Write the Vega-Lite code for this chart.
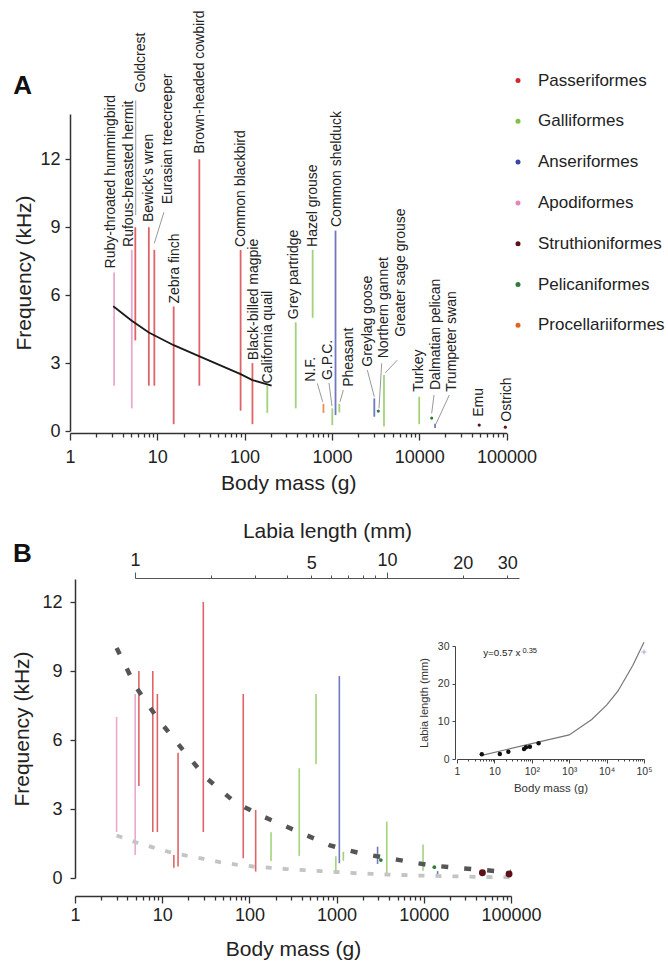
{
  "$schema": "https://vega.github.io/schema/vega-lite/v6.json",
  "width": 668,
  "height": 963,
  "autosize": {"type": "none"},
  "padding": 0,
  "background": "white",
  "config": {
    "view": {"stroke": null},
    "font": "Liberation Sans",
    "axis": {"grid": false, "domainColor": "#333", "tickColor": "#333", "labelColor": "#222", "titleColor": "#222", "titleFontWeight": "normal", "labelFont": "Liberation Sans", "titleFont": "Liberation Sans", "domainWidth": 1.5, "tickWidth": 1.3, "labelFlush": false, "labelOverlap": false},
    "text": {"font": "Liberation Sans"}
  },
  "datasets": {
    "birdsA": [
      {"species": "Ruby-throated hummingbird", "order": "Apodiformes", "kind": "bar", "mass": 3.2, "fmin": 2, "fmax": 7},
      {"species": "Rufous-breasted hermit", "order": "Apodiformes", "kind": "bar", "mass": 5.1, "fmin": 1, "fmax": 8},
      {"species": "Goldcrest", "order": "Passeriformes", "kind": "bar", "mass": 5.6, "fmin": 4, "fmax": 9},
      {"species": "Bewick's wren", "order": "Passeriformes", "kind": "bar", "mass": 8.0, "fmin": 2, "fmax": 9},
      {"species": "Eurasian treecreeper", "order": "Passeriformes", "kind": "bar", "mass": 9.25, "fmin": 2, "fmax": 8},
      {"species": "Zebra finch", "order": "Passeriformes", "kind": "bar", "mass": 15.4, "fmin": 0.3, "fmax": 5.5},
      {"species": "Brown-headed cowbird", "order": "Passeriformes", "kind": "bar", "mass": 30.3, "fmin": 2, "fmax": 12},
      {"species": "Common blackbird", "order": "Passeriformes", "kind": "bar", "mass": 90, "fmin": 0.9, "fmax": 8},
      {"species": "Black-billed magpie", "order": "Passeriformes", "kind": "bar", "mass": 123, "fmin": 0.3, "fmax": 3},
      {"species": "California quail", "order": "Galliformes", "kind": "bar", "mass": 182, "fmin": 0.8, "fmax": 2},
      {"species": "Grey partridge", "order": "Galliformes", "kind": "bar", "mass": 385, "fmin": 1, "fmax": 4.8},
      {"species": "Hazel grouse", "order": "Galliformes", "kind": "bar", "mass": 602, "fmin": 5, "fmax": 8},
      {"species": "Northern fulmar", "order": "Procellariiformes", "kind": "bar", "mass": 800, "fmin": 0.8, "fmax": 1.2},
      {"species": "Greater prairie chicken", "order": "Galliformes", "kind": "bar", "mass": 1010, "fmin": 0.26, "fmax": 1.0},
      {"species": "Common shelduck", "order": "Anseriformes", "kind": "bar", "mass": 1100, "fmin": 0.7, "fmax": 8.85},
      {"species": "Pheasant", "order": "Galliformes", "kind": "bar", "mass": 1217, "fmin": 0.82, "fmax": 1.2},
      {"species": "Greylag goose", "order": "Anseriformes", "kind": "bar", "mass": 3060, "fmin": 0.63, "fmax": 1.44},
      {"species": "Northern gannet", "order": "Pelicaniformes", "kind": "dot", "mass": 3400, "fmin": 0.88, "fmax": 0.88},
      {"species": "Greater sage grouse", "order": "Galliformes", "kind": "bar", "mass": 3950, "fmin": 0.2, "fmax": 2.47},
      {"species": "Turkey", "order": "Galliformes", "kind": "bar", "mass": 10000, "fmin": 0.3, "fmax": 1.51},
      {"species": "Dalmatian pelican", "order": "Pelicaniformes", "kind": "dot", "mass": 13900, "fmin": 0.57, "fmax": 0.57},
      {"species": "Trumpeter swan", "order": "Anseriformes", "kind": "bar", "mass": 15200, "fmin": 0.13, "fmax": 0.32},
      {"species": "Emu", "order": "Struthioniformes", "kind": "dot", "mass": 48700, "fmin": 0.26, "fmax": 0.26},
      {"species": "Ostrich", "order": "Struthioniformes", "kind": "dot", "mass": 97000, "fmin": 0.17, "fmax": 0.17}
    ],
    "labelsA": [
      {"label": "Ruby-throated hummingbird", "labelMass": 2.95, "labelFreq": 7.18},
      {"label": "Rufous-breasted hermit", "labelMass": 4.72, "labelFreq": 8.13},
      {"label": "Goldcrest", "labelMass": 6.59, "labelFreq": 14.95},
      {"label": "Bewick's wren", "labelMass": 8.04, "labelFreq": 9.23},
      {"label": "Eurasian treecreeper", "labelMass": 13.4, "labelFreq": 10.01},
      {"label": "Zebra finch", "labelMass": 15.9, "labelFreq": 5.63},
      {"label": "Brown-headed cowbird", "labelMass": 30.8, "labelFreq": 12.25},
      {"label": "Common blackbird", "labelMass": 89.8, "labelFreq": 8.13},
      {"label": "Black-billed magpie", "labelMass": 128, "labelFreq": 3.13},
      {"label": "California quail", "labelMass": 185, "labelFreq": 2.1},
      {"label": "Grey partridge", "labelMass": 368, "labelFreq": 4.94},
      {"label": "Hazel grouse", "labelMass": 607, "labelFreq": 8.13},
      {"label": "Common shelduck", "labelMass": 1159, "labelFreq": 9.01},
      {"label": "N.F.", "labelMass": 573, "labelFreq": 2.17},
      {"label": "G.P.C.", "labelMass": 891, "labelFreq": 2.25},
      {"label": "Pheasant", "labelMass": 1578, "labelFreq": 1.95},
      {"label": "Greylag goose", "labelMass": 2558, "labelFreq": 2.84},
      {"label": "Northern gannet", "labelMass": 3953, "labelFreq": 3.21},
      {"label": "Greater sage grouse", "labelMass": 6190, "labelFreq": 4.16},
      {"label": "Turkey", "labelMass": 9950, "labelFreq": 1.73},
      {"label": "Dalmatian pelican", "labelMass": 15380, "labelFreq": 1.81},
      {"label": "Trumpeter swan", "labelMass": 24050, "labelFreq": 1.73},
      {"label": "Emu", "labelMass": 48080, "labelFreq": 0.63},
      {"label": "Ostrich", "labelMass": 102600, "labelFreq": 0.41}
    ],
    "leadersA": [
      {"label": "Goldcrest", "mass1": 5.66, "freq1": 9.53, "mass2": 5.66, "freq2": 14.6},
      {"label": "Eurasian treecreeper", "mass1": 9.24, "freq1": 8.29, "mass2": 11.9, "freq2": 9.66},
      {"label": "N.F.", "mass1": 681, "freq1": 2.1, "mass2": 784, "freq2": 1.29},
      {"label": "G.P.C.", "mass1": 926, "freq1": 2.12, "mass2": 1003, "freq2": 1.1},
      {"label": "Pheasant", "mass1": 1352, "freq1": 1.81, "mass2": 1238, "freq2": 1.29},
      {"label": "Greylag goose", "mass1": 2545, "freq1": 2.69, "mass2": 3060, "freq2": 1.51},
      {"label": "Northern gannet", "mass1": 3718, "freq1": 2.99, "mass2": 3463, "freq2": 1.0},
      {"label": "Greater sage grouse", "mass1": 5613, "freq1": 3.13, "mass2": 4090, "freq2": 2.57},
      {"label": "Dalmatian pelican", "mass1": 14780, "freq1": 1.59, "mass2": 13900, "freq2": 0.78},
      {"label": "Trumpeter swan", "mass1": 22130, "freq1": 1.59, "mass2": 15560, "freq2": 0.31}
    ],
    "fitA": [
      {"mass": 3.13, "freq": 5.51},
      {"mass": 5.1, "freq": 4.87},
      {"mass": 8, "freq": 4.35},
      {"mass": 15.4, "freq": 3.79},
      {"mass": 30, "freq": 3.31},
      {"mass": 90, "freq": 2.51},
      {"mass": 123, "freq": 2.25},
      {"mass": 204, "freq": 2.0}
    ],
    "lettersA": [{"letter": "A", "mass": 0.286, "freq": 15.24}],
    "lettersB": [{"letter": "B", "mass": 0.25, "freq": 14.09}],
    "birdsB": [
      {"species": "Ruby-throated hummingbird", "order": "Apodiformes", "kind": "bar", "mass": 3.0, "fmin": 2, "fmax": 7},
      {"species": "Rufous-breasted hermit", "order": "Apodiformes", "kind": "bar", "mass": 4.9, "fmin": 1, "fmax": 8},
      {"species": "Goldcrest", "order": "Passeriformes", "kind": "bar", "mass": 5.4, "fmin": 4, "fmax": 9},
      {"species": "Bewick's wren", "order": "Passeriformes", "kind": "bar", "mass": 7.8, "fmin": 2, "fmax": 9},
      {"species": "Eurasian treecreeper", "order": "Passeriformes", "kind": "bar", "mass": 8.8, "fmin": 2, "fmax": 8},
      {"species": "Zebra finch (low)", "order": "Passeriformes", "kind": "bar", "mass": 13.6, "fmin": 0.45, "fmax": 1.0},
      {"species": "Zebra finch", "order": "Passeriformes", "kind": "bar", "mass": 15.2, "fmin": 0.5, "fmax": 5.45},
      {"species": "Brown-headed cowbird", "order": "Passeriformes", "kind": "bar", "mass": 29.6, "fmin": 2, "fmax": 12},
      {"species": "Common blackbird", "order": "Passeriformes", "kind": "bar", "mass": 85, "fmin": 0.86, "fmax": 8},
      {"species": "Black-billed magpie", "order": "Passeriformes", "kind": "bar", "mass": 118, "fmin": 0.28, "fmax": 2.96},
      {"species": "California quail", "order": "Galliformes", "kind": "bar", "mass": 177, "fmin": 0.74, "fmax": 1.99},
      {"species": "Grey partridge", "order": "Galliformes", "kind": "bar", "mass": 373, "fmin": 0.96, "fmax": 4.77},
      {"species": "Hazel grouse", "order": "Galliformes", "kind": "bar", "mass": 581, "fmin": 4.96, "fmax": 8},
      {"species": "Greater prairie chicken", "order": "Galliformes", "kind": "bar", "mass": 980, "fmin": 0.3, "fmax": 0.95},
      {"species": "Common shelduck", "order": "Anseriformes", "kind": "bar", "mass": 1075, "fmin": 0.64, "fmax": 8.78},
      {"species": "Pheasant", "order": "Galliformes", "kind": "bar", "mass": 1195, "fmin": 0.75, "fmax": 1.14},
      {"species": "Greylag goose", "order": "Anseriformes", "kind": "bar", "mass": 2950, "fmin": 0.61, "fmax": 1.36},
      {"species": "Northern gannet", "order": "Pelicaniformes", "kind": "dot", "mass": 3220, "fmin": 0.78, "fmax": 0.78},
      {"species": "Greater sage grouse", "order": "Galliformes", "kind": "bar", "mass": 3760, "fmin": 0.2, "fmax": 2.45},
      {"species": "Turkey", "order": "Galliformes", "kind": "bar", "mass": 9800, "fmin": 0.32, "fmax": 1.46},
      {"species": "Dalmatian pelican", "order": "Pelicaniformes", "kind": "dot", "mass": 13200, "fmin": 0.47, "fmax": 0.47},
      {"species": "Trumpeter swan", "order": "Anseriformes", "kind": "bar", "mass": 14400, "fmin": 0.15, "fmax": 0.3},
      {"species": "Emu", "order": "Struthioniformes", "kind": "dot", "mass": 47000, "fmin": 0.23, "fmax": 0.23},
      {"species": "Ostrich", "order": "Struthioniformes", "kind": "dot", "mass": 95000, "fmin": 0.17, "fmax": 0.17}
    ],
    "curvesB": [
      {"curve": "upper", "mass": 3, "freq": 10.0},
      {"curve": "upper", "mass": 5, "freq": 8.3},
      {"curve": "upper", "mass": 9, "freq": 6.9},
      {"curve": "upper", "mass": 17, "freq": 5.6},
      {"curve": "upper", "mass": 32, "freq": 4.35},
      {"curve": "upper", "mass": 68, "freq": 3.3},
      {"curve": "upper", "mass": 138, "freq": 2.7},
      {"curve": "upper", "mass": 370, "freq": 2.0},
      {"curve": "upper", "mass": 840, "freq": 1.42},
      {"curve": "upper", "mass": 1300, "freq": 1.22},
      {"curve": "upper", "mass": 2000, "freq": 1.05},
      {"curve": "upper", "mass": 4900, "freq": 0.8},
      {"curve": "upper", "mass": 11800, "freq": 0.55},
      {"curve": "upper", "mass": 28000, "freq": 0.42},
      {"curve": "upper", "mass": 68000, "freq": 0.3},
      {"curve": "upper", "mass": 100000, "freq": 0.27},
      {"curve": "lower", "mass": 3, "freq": 1.85},
      {"curve": "lower", "mass": 5, "freq": 1.55},
      {"curve": "lower", "mass": 8, "freq": 1.32},
      {"curve": "lower", "mass": 12, "freq": 1.13},
      {"curve": "lower", "mass": 19, "freq": 0.97},
      {"curve": "lower", "mass": 30, "freq": 0.83},
      {"curve": "lower", "mass": 46, "freq": 0.69},
      {"curve": "lower", "mass": 71, "freq": 0.58},
      {"curve": "lower", "mass": 111, "freq": 0.5},
      {"curve": "lower", "mass": 177, "freq": 0.44},
      {"curve": "lower", "mass": 267, "freq": 0.39},
      {"curve": "lower", "mass": 430, "freq": 0.34},
      {"curve": "lower", "mass": 660, "freq": 0.3},
      {"curve": "lower", "mass": 1000, "freq": 0.26},
      {"curve": "lower", "mass": 1600, "freq": 0.21},
      {"curve": "lower", "mass": 2500, "freq": 0.18},
      {"curve": "lower", "mass": 3800, "freq": 0.15},
      {"curve": "lower", "mass": 10000, "freq": 0.1},
      {"curve": "lower", "mass": 40000, "freq": 0.05},
      {"curve": "lower", "mass": 100000, "freq": 0.03}
    ],
    "labia": [{"labia": 1}, {"labia": 33.4}],
    "insetPoints": [
      {"mass": 4.6, "labia": 1.25},
      {"mass": 14, "labia": 1.33},
      {"mass": 23.6, "labia": 1.94},
      {"mass": 62, "labia": 2.65},
      {"mass": 70, "labia": 3.1},
      {"mass": 89, "labia": 3.27},
      {"mass": 152, "labia": 4.16}
    ],
    "insetFit": [
      {"mass": 4.6, "labia": 0.97},
      {"mass": 1000, "labia": 6.4},
      {"mass": 4000, "labia": 10.5},
      {"mass": 10000, "labia": 14.3},
      {"mass": 20000, "labia": 18.0},
      {"mass": 50000, "labia": 24.8},
      {"mass": 100000, "labia": 31.0}
    ],
    "insetPlus": [{"mass": 100000, "labia": 28.4}],
    "equation": [{"t": "y=0.57 x", "mass": 5.0, "labia": 28.1}],
    "equationSup": [{"t": "0.35", "mass": 56, "labia": 28.8}]
  },
  "resolve": {"scale": {"x": "independent", "y": "independent"}},
  "layer": [
    {
      "layer": [
        {
          "data": {"name": "birdsA"},
          "transform": [{"filter": "datum.kind == 'dot'"}],
          "mark": {"type": "point", "filled": true, "size": 10, "opacity": 1},
          "encoding": {
            "x": {"field": "mass", "type": "quantitative", "scale": {"type": "log", "domain": [1, 100000], "range": [70, 506.5], "nice": false},
              "axis": {"orient": "bottom", "offset": -530, "title": "Body mass (g)", "values": [1,2,3,4,5,6,7,8,9,10,20,30,40,50,60,70,80,90,100,200,300,400,500,600,700,800,900,1000,2000,3000,4000,5000,6000,7000,8000,9000,10000,20000,30000,40000,50000,60000,70000,80000,90000,100000], "labelExpr": "indexof([1,10,100,1000,10000,100000], datum.value) >= 0 ? format(datum.value, 'd') : ''", "tickSize": {"condition": {"test": "indexof([1,10,100,1000,10000,100000], datum.value) >= 0", "value": 7}, "value": 4}, "labelPadding": 8, "labelFontSize": 18, "titleFontSize": 21, "titlePadding": 6}},
            "y": {"field": "fmin", "type": "quantitative", "scale": {"domain": [0, 14], "range": [431, 114], "nice": false, "zero": false},
              "axis": {"orient": "left", "offset": -70, "title": "Frequency (kHz)", "values": [0, 3, 6, 9, 12], "tickSize": 5, "labelPadding": 5, "labelFontSize": 18, "titleFontSize": 21, "titlePadding": 5}},
            "color": {"field": "order", "type": "nominal",
              "scale": {"domain": ["Passeriformes", "Galliformes", "Anseriformes", "Apodiformes", "Struthioniformes", "Pelicaniformes", "Procellariiformes"],
                "range": ["#d2282d", "#7fc045", "#3c44a6", "#e386bb", "#5e1016", "#2e7d36", "#df6420"]},
              "legend": {"orient": "none", "legendX": 509.5, "legendY": 72, "title": null, "symbolType": "circle", "symbolSize": 25, "symbolStrokeWidth": 0, "labelFontSize": 17, "labelOffset": 11.5, "rowPadding": 22.8, "labelColor": "#222", "padding": 0, "labelFont": "Liberation Sans", "labelLimit": 200}}
          }
        },
        {
          "data": {"name": "birdsA"},
          "transform": [{"filter": "datum.kind == 'bar'"}],
          "mark": {"type": "rule", "strokeWidth": 1.8, "opacity": 0.72},
          "encoding": {
            "x": {"field": "mass", "type": "quantitative", "scale": {"type": "log", "domain": [1, 100000], "range": [70, 506.5], "nice": false},
              "axis": {"orient": "bottom", "offset": -530, "title": "Body mass (g)", "values": [1,2,3,4,5,6,7,8,9,10,20,30,40,50,60,70,80,90,100,200,300,400,500,600,700,800,900,1000,2000,3000,4000,5000,6000,7000,8000,9000,10000,20000,30000,40000,50000,60000,70000,80000,90000,100000], "labelExpr": "indexof([1,10,100,1000,10000,100000], datum.value) >= 0 ? format(datum.value, 'd') : ''", "tickSize": {"condition": {"test": "indexof([1,10,100,1000,10000,100000], datum.value) >= 0", "value": 7}, "value": 4}, "labelPadding": 8, "labelFontSize": 18, "titleFontSize": 21, "titlePadding": 6}},
            "y": {"field": "fmin", "type": "quantitative", "scale": {"domain": [0, 14], "range": [431, 114], "nice": false, "zero": false},
              "axis": {"orient": "left", "offset": -70, "title": "Frequency (kHz)", "values": [0, 3, 6, 9, 12], "tickSize": 5, "labelPadding": 5, "labelFontSize": 18, "titleFontSize": 21, "titlePadding": 5}},
            "y2": {"field": "fmax"},
            "color": {"field": "order", "type": "nominal", "legend": null}
          }
        },
        {
          "data": {"name": "fitA"},
          "mark": {"type": "line", "color": "#1a1a1a", "strokeWidth": 1.8},
          "encoding": {
            "x": {"field": "mass", "type": "quantitative", "scale": {"type": "log", "domain": [1, 100000], "range": [70, 506.5], "nice": false},
              "axis": {"orient": "bottom", "offset": -530, "title": "Body mass (g)", "values": [1,2,3,4,5,6,7,8,9,10,20,30,40,50,60,70,80,90,100,200,300,400,500,600,700,800,900,1000,2000,3000,4000,5000,6000,7000,8000,9000,10000,20000,30000,40000,50000,60000,70000,80000,90000,100000], "labelExpr": "indexof([1,10,100,1000,10000,100000], datum.value) >= 0 ? format(datum.value, 'd') : ''", "tickSize": {"condition": {"test": "indexof([1,10,100,1000,10000,100000], datum.value) >= 0", "value": 7}, "value": 4}, "labelPadding": 8, "labelFontSize": 18, "titleFontSize": 21, "titlePadding": 6}},
            "y": {"field": "freq", "type": "quantitative", "scale": {"domain": [0, 14], "range": [431, 114], "nice": false, "zero": false},
              "axis": {"orient": "left", "offset": -70, "title": "Frequency (kHz)", "values": [0, 3, 6, 9, 12], "tickSize": 5, "labelPadding": 5, "labelFontSize": 18, "titleFontSize": 21, "titlePadding": 5}}
          }
        },
        {
          "data": {"name": "leadersA"},
          "mark": {"type": "rule", "color": "#999", "strokeWidth": 1},
          "encoding": {
            "x": {"field": "mass1", "type": "quantitative", "scale": {"type": "log", "domain": [1, 100000], "range": [70, 506.5], "nice": false},
              "axis": {"orient": "bottom", "offset": -530, "title": "Body mass (g)", "values": [1,2,3,4,5,6,7,8,9,10,20,30,40,50,60,70,80,90,100,200,300,400,500,600,700,800,900,1000,2000,3000,4000,5000,6000,7000,8000,9000,10000,20000,30000,40000,50000,60000,70000,80000,90000,100000], "labelExpr": "indexof([1,10,100,1000,10000,100000], datum.value) >= 0 ? format(datum.value, 'd') : ''", "tickSize": {"condition": {"test": "indexof([1,10,100,1000,10000,100000], datum.value) >= 0", "value": 7}, "value": 4}, "labelPadding": 8, "labelFontSize": 18, "titleFontSize": 21, "titlePadding": 6}},
            "y": {"field": "freq1", "type": "quantitative", "scale": {"domain": [0, 14], "range": [431, 114], "nice": false, "zero": false},
              "axis": {"orient": "left", "offset": -70, "title": "Frequency (kHz)", "values": [0, 3, 6, 9, 12], "tickSize": 5, "labelPadding": 5, "labelFontSize": 18, "titleFontSize": 21, "titlePadding": 5}},
            "x2": {"field": "mass2"},
            "y2": {"field": "freq2"}
          }
        },
        {
          "data": {"name": "labelsA"},
          "mark": {"type": "text", "angle": 270, "align": "left", "baseline": "middle", "fontSize": 14, "color": "#222"},
          "encoding": {
            "x": {"field": "labelMass", "type": "quantitative", "scale": {"type": "log", "domain": [1, 100000], "range": [70, 506.5], "nice": false},
              "axis": {"orient": "bottom", "offset": -530, "title": "Body mass (g)", "values": [1,2,3,4,5,6,7,8,9,10,20,30,40,50,60,70,80,90,100,200,300,400,500,600,700,800,900,1000,2000,3000,4000,5000,6000,7000,8000,9000,10000,20000,30000,40000,50000,60000,70000,80000,90000,100000], "labelExpr": "indexof([1,10,100,1000,10000,100000], datum.value) >= 0 ? format(datum.value, 'd') : ''", "tickSize": {"condition": {"test": "indexof([1,10,100,1000,10000,100000], datum.value) >= 0", "value": 7}, "value": 4}, "labelPadding": 8, "labelFontSize": 18, "titleFontSize": 21, "titlePadding": 6}},
            "y": {"field": "labelFreq", "type": "quantitative", "scale": {"domain": [0, 14], "range": [431, 114], "nice": false, "zero": false},
              "axis": {"orient": "left", "offset": -70, "title": "Frequency (kHz)", "values": [0, 3, 6, 9, 12], "tickSize": 5, "labelPadding": 5, "labelFontSize": 18, "titleFontSize": 21, "titlePadding": 5}},
            "text": {"field": "label"}
          }
        },
        {
          "data": {"name": "lettersA"},
          "mark": {"type": "text", "align": "center", "baseline": "middle", "fontSize": 26, "fontWeight": "bold", "color": "#111"},
          "encoding": {
            "x": {"field": "mass", "type": "quantitative", "scale": {"type": "log", "domain": [1, 100000], "range": [70, 506.5], "nice": false},
              "axis": {"orient": "bottom", "offset": -530, "title": "Body mass (g)", "values": [1,2,3,4,5,6,7,8,9,10,20,30,40,50,60,70,80,90,100,200,300,400,500,600,700,800,900,1000,2000,3000,4000,5000,6000,7000,8000,9000,10000,20000,30000,40000,50000,60000,70000,80000,90000,100000], "labelExpr": "indexof([1,10,100,1000,10000,100000], datum.value) >= 0 ? format(datum.value, 'd') : ''", "tickSize": {"condition": {"test": "indexof([1,10,100,1000,10000,100000], datum.value) >= 0", "value": 7}, "value": 4}, "labelPadding": 8, "labelFontSize": 18, "titleFontSize": 21, "titlePadding": 6}},
            "y": {"field": "freq", "type": "quantitative", "scale": {"domain": [0, 14], "range": [431, 114], "nice": false, "zero": false},
              "axis": {"orient": "left", "offset": -70, "title": "Frequency (kHz)", "values": [0, 3, 6, 9, 12], "tickSize": 5, "labelPadding": 5, "labelFontSize": 18, "titleFontSize": 21, "titlePadding": 5}},
            "text": {"field": "letter"}
          }
        }
      ]
    },
    {
      "layer": [
        {
          "data": {"name": "birdsB"},
          "transform": [{"filter": "datum.kind == 'bar'"}],
          "mark": {"type": "rule", "strokeWidth": 1.6, "opacity": 0.72},
          "encoding": {
            "x": {"field": "mass", "type": "quantitative", "scale": {"type": "log", "domain": [1, 100000], "range": [75, 511], "nice": false},
              "axis": {"orient": "bottom", "offset": -67, "title": "Body mass (g)", "values": [1,2,3,4,5,6,7,8,9,10,20,30,40,50,60,70,80,90,100,200,300,400,500,600,700,800,900,1000,2000,3000,4000,5000,6000,7000,8000,9000,10000,20000,30000,40000,50000,60000,70000,80000,90000,100000], "labelExpr": "indexof([1,10,100,1000,10000,100000], datum.value) >= 0 ? format(datum.value, 'd') : ''", "tickSize": {"condition": {"test": "indexof([1,10,100,1000,10000,100000], datum.value) >= 0", "value": 7}, "value": 4}, "labelPadding": 3, "labelFontSize": 18, "titleFontSize": 21, "titlePadding": 14}},
            "y": {"field": "fmin", "type": "quantitative", "scale": {"domain": [0, 13], "range": [878, 579], "nice": false, "zero": false},
              "axis": {"orient": "left", "offset": -75, "title": "Frequency (kHz)", "values": [0, 3, 6, 9, 12], "tickSize": 5, "labelPadding": 8, "labelFontSize": 18, "titleFontSize": 21, "titlePadding": 9}},
            "y2": {"field": "fmax"},
            "color": {"field": "order", "type": "nominal", "legend": null}
          }
        },
        {
          "data": {"name": "curvesB"},
          "transform": [{"filter": "datum.curve == 'lower'"}],
          "mark": {"type": "line", "color": "#c4c4c4", "strokeWidth": 3.8, "strokeDash": [6, 11], "strokeCap": "butt"},
          "encoding": {
            "x": {"field": "mass", "type": "quantitative", "scale": {"type": "log", "domain": [1, 100000], "range": [75, 511], "nice": false},
              "axis": {"orient": "bottom", "offset": -67, "title": "Body mass (g)", "values": [1,2,3,4,5,6,7,8,9,10,20,30,40,50,60,70,80,90,100,200,300,400,500,600,700,800,900,1000,2000,3000,4000,5000,6000,7000,8000,9000,10000,20000,30000,40000,50000,60000,70000,80000,90000,100000], "labelExpr": "indexof([1,10,100,1000,10000,100000], datum.value) >= 0 ? format(datum.value, 'd') : ''", "tickSize": {"condition": {"test": "indexof([1,10,100,1000,10000,100000], datum.value) >= 0", "value": 7}, "value": 4}, "labelPadding": 3, "labelFontSize": 18, "titleFontSize": 21, "titlePadding": 14}},
            "y": {"field": "freq", "type": "quantitative", "scale": {"domain": [0, 13], "range": [878, 579], "nice": false, "zero": false},
              "axis": {"orient": "left", "offset": -75, "title": "Frequency (kHz)", "values": [0, 3, 6, 9, 12], "tickSize": 5, "labelPadding": 8, "labelFontSize": 18, "titleFontSize": 21, "titlePadding": 9}}
          }
        },
        {
          "data": {"name": "curvesB"},
          "transform": [{"filter": "datum.curve == 'upper'"}],
          "mark": {"type": "line", "color": "#555", "strokeWidth": 4.5, "strokeDash": [7, 16], "strokeCap": "butt"},
          "encoding": {
            "x": {"field": "mass", "type": "quantitative", "scale": {"type": "log", "domain": [1, 100000], "range": [75, 511], "nice": false},
              "axis": {"orient": "bottom", "offset": -67, "title": "Body mass (g)", "values": [1,2,3,4,5,6,7,8,9,10,20,30,40,50,60,70,80,90,100,200,300,400,500,600,700,800,900,1000,2000,3000,4000,5000,6000,7000,8000,9000,10000,20000,30000,40000,50000,60000,70000,80000,90000,100000], "labelExpr": "indexof([1,10,100,1000,10000,100000], datum.value) >= 0 ? format(datum.value, 'd') : ''", "tickSize": {"condition": {"test": "indexof([1,10,100,1000,10000,100000], datum.value) >= 0", "value": 7}, "value": 4}, "labelPadding": 3, "labelFontSize": 18, "titleFontSize": 21, "titlePadding": 14}},
            "y": {"field": "freq", "type": "quantitative", "scale": {"domain": [0, 13], "range": [878, 579], "nice": false, "zero": false},
              "axis": {"orient": "left", "offset": -75, "title": "Frequency (kHz)", "values": [0, 3, 6, 9, 12], "tickSize": 5, "labelPadding": 8, "labelFontSize": 18, "titleFontSize": 21, "titlePadding": 9}}
          }
        },
        {
          "data": {"name": "birdsB"},
          "transform": [{"filter": "datum.kind == 'dot' && datum.order == 'Pelicaniformes'"}],
          "mark": {"type": "point", "filled": true, "size": 14, "opacity": 1},
          "encoding": {
            "x": {"field": "mass", "type": "quantitative", "scale": {"type": "log", "domain": [1, 100000], "range": [75, 511], "nice": false},
              "axis": {"orient": "bottom", "offset": -67, "title": "Body mass (g)", "values": [1,2,3,4,5,6,7,8,9,10,20,30,40,50,60,70,80,90,100,200,300,400,500,600,700,800,900,1000,2000,3000,4000,5000,6000,7000,8000,9000,10000,20000,30000,40000,50000,60000,70000,80000,90000,100000], "labelExpr": "indexof([1,10,100,1000,10000,100000], datum.value) >= 0 ? format(datum.value, 'd') : ''", "tickSize": {"condition": {"test": "indexof([1,10,100,1000,10000,100000], datum.value) >= 0", "value": 7}, "value": 4}, "labelPadding": 3, "labelFontSize": 18, "titleFontSize": 21, "titlePadding": 14}},
            "y": {"field": "fmin", "type": "quantitative", "scale": {"domain": [0, 13], "range": [878, 579], "nice": false, "zero": false},
              "axis": {"orient": "left", "offset": -75, "title": "Frequency (kHz)", "values": [0, 3, 6, 9, 12], "tickSize": 5, "labelPadding": 8, "labelFontSize": 18, "titleFontSize": 21, "titlePadding": 9}},
            "color": {"field": "order", "type": "nominal", "legend": null}
          }
        },
        {
          "data": {"name": "birdsB"},
          "transform": [{"filter": "datum.kind == 'dot' && datum.order == 'Struthioniformes'"}],
          "mark": {"type": "point", "filled": true, "size": 48, "opacity": 1},
          "encoding": {
            "x": {"field": "mass", "type": "quantitative", "scale": {"type": "log", "domain": [1, 100000], "range": [75, 511], "nice": false},
              "axis": {"orient": "bottom", "offset": -67, "title": "Body mass (g)", "values": [1,2,3,4,5,6,7,8,9,10,20,30,40,50,60,70,80,90,100,200,300,400,500,600,700,800,900,1000,2000,3000,4000,5000,6000,7000,8000,9000,10000,20000,30000,40000,50000,60000,70000,80000,90000,100000], "labelExpr": "indexof([1,10,100,1000,10000,100000], datum.value) >= 0 ? format(datum.value, 'd') : ''", "tickSize": {"condition": {"test": "indexof([1,10,100,1000,10000,100000], datum.value) >= 0", "value": 7}, "value": 4}, "labelPadding": 3, "labelFontSize": 18, "titleFontSize": 21, "titlePadding": 14}},
            "y": {"field": "fmin", "type": "quantitative", "scale": {"domain": [0, 13], "range": [878, 579], "nice": false, "zero": false},
              "axis": {"orient": "left", "offset": -75, "title": "Frequency (kHz)", "values": [0, 3, 6, 9, 12], "tickSize": 5, "labelPadding": 8, "labelFontSize": 18, "titleFontSize": 21, "titlePadding": 9}},
            "color": {"field": "order", "type": "nominal", "legend": null}
          }
        },
        {
          "data": {"name": "lettersB"},
          "mark": {"type": "text", "align": "center", "baseline": "middle", "fontSize": 26, "fontWeight": "bold", "color": "#111"},
          "encoding": {
            "x": {"field": "mass", "type": "quantitative", "scale": {"type": "log", "domain": [1, 100000], "range": [75, 511], "nice": false},
              "axis": {"orient": "bottom", "offset": -67, "title": "Body mass (g)", "values": [1,2,3,4,5,6,7,8,9,10,20,30,40,50,60,70,80,90,100,200,300,400,500,600,700,800,900,1000,2000,3000,4000,5000,6000,7000,8000,9000,10000,20000,30000,40000,50000,60000,70000,80000,90000,100000], "labelExpr": "indexof([1,10,100,1000,10000,100000], datum.value) >= 0 ? format(datum.value, 'd') : ''", "tickSize": {"condition": {"test": "indexof([1,10,100,1000,10000,100000], datum.value) >= 0", "value": 7}, "value": 4}, "labelPadding": 3, "labelFontSize": 18, "titleFontSize": 21, "titlePadding": 14}},
            "y": {"field": "freq", "type": "quantitative", "scale": {"domain": [0, 13], "range": [878, 579], "nice": false, "zero": false},
              "axis": {"orient": "left", "offset": -75, "title": "Frequency (kHz)", "values": [0, 3, 6, 9, 12], "tickSize": 5, "labelPadding": 8, "labelFontSize": 18, "titleFontSize": 21, "titlePadding": 9}},
            "text": {"field": "letter"}
          }
        }
      ]
    },
    {
      "data": {"name": "labia"},
      "mark": {"type": "point", "opacity": 0},
      "encoding": {
        "x": {"field": "labia", "type": "quantitative", "scale": {"type": "log", "domain": [1, 33.4], "range": [135, 519], "nice": false},
          "axis": {"orient": "top", "offset": -578, "title": "Labia length (mm)", "values": [1,2,3,4,5,6,7,8,9,10,20,30], "labelExpr": "indexof([1,5,10,20,30], datum.value) >= 0 ? format(datum.value, 'd') : ''", "tickSize": {"condition": {"test": "datum.value == 1 || datum.value == 10", "value": 6}, "value": 3}, "labelPadding": 3, "labelFontSize": 18, "titleFontSize": 21, "titlePadding": 10, "domainWidth": 1, "tickWidth": 1, "domainColor": "#555", "tickColor": "#555"}}
      }
    },
    {
      "layer": [
        {
          "data": {"name": "insetFit"},
          "mark": {"type": "line", "color": "#777", "strokeWidth": 1.2},
          "encoding": {
            "x": {"field": "mass", "type": "quantitative", "scale": {"type": "log", "domain": [1, 100000], "range": [457, 644], "nice": false},
              "axis": {"orient": "bottom", "offset": -204, "title": "Body mass (g)", "values": [1,2,3,4,5,6,7,8,9,10,20,30,40,50,60,70,80,90,100,200,300,400,500,600,700,800,900,1000,2000,3000,4000,5000,6000,7000,8000,9000,10000,20000,30000,40000,50000,60000,70000,80000,90000,100000], "labelExpr": "datum.value == 1 ? '1' : datum.value == 10 ? '10' : datum.value == 100 ? '10²' : datum.value == 1000 ? '10³' : datum.value == 10000 ? '10⁴' : datum.value == 100000 ? '10⁵' : ''", "tickSize": {"condition": {"test": "indexof([1,10,100,1000,10000,100000], datum.value) >= 0", "value": 4}, "value": 2}, "labelPadding": 3, "labelFontSize": 10.5, "titleFontSize": 11.5, "titlePadding": 6, "domainWidth": 1, "tickWidth": 1, "domainColor": "#444", "tickColor": "#444", "labelColor": "#333", "titleColor": "#333"}},
            "y": {"field": "labia", "type": "quantitative", "scale": {"domain": [0, 30], "range": [759, 646], "nice": false, "zero": false},
              "axis": {"orient": "left", "offset": -455, "title": "Labia length (mm)", "values": [0, 10, 20, 30], "tickSize": 3, "labelPadding": 3, "labelFontSize": 10.5, "titleFontSize": 11.2, "titlePadding": 8, "domainWidth": 1, "tickWidth": 1, "domainColor": "#444", "tickColor": "#444", "labelColor": "#333", "titleColor": "#333"}}
          }
        },
        {
          "data": {"name": "insetPoints"},
          "mark": {"type": "point", "filled": true, "color": "#111", "size": 20, "opacity": 1},
          "encoding": {
            "x": {"field": "mass", "type": "quantitative", "scale": {"type": "log", "domain": [1, 100000], "range": [457, 644], "nice": false},
              "axis": {"orient": "bottom", "offset": -204, "title": "Body mass (g)", "values": [1,2,3,4,5,6,7,8,9,10,20,30,40,50,60,70,80,90,100,200,300,400,500,600,700,800,900,1000,2000,3000,4000,5000,6000,7000,8000,9000,10000,20000,30000,40000,50000,60000,70000,80000,90000,100000], "labelExpr": "datum.value == 1 ? '1' : datum.value == 10 ? '10' : datum.value == 100 ? '10²' : datum.value == 1000 ? '10³' : datum.value == 10000 ? '10⁴' : datum.value == 100000 ? '10⁵' : ''", "tickSize": {"condition": {"test": "indexof([1,10,100,1000,10000,100000], datum.value) >= 0", "value": 4}, "value": 2}, "labelPadding": 3, "labelFontSize": 10.5, "titleFontSize": 11.5, "titlePadding": 6, "domainWidth": 1, "tickWidth": 1, "domainColor": "#444", "tickColor": "#444", "labelColor": "#333", "titleColor": "#333"}},
            "y": {"field": "labia", "type": "quantitative", "scale": {"domain": [0, 30], "range": [759, 646], "nice": false, "zero": false},
              "axis": {"orient": "left", "offset": -455, "title": "Labia length (mm)", "values": [0, 10, 20, 30], "tickSize": 3, "labelPadding": 3, "labelFontSize": 10.5, "titleFontSize": 11.2, "titlePadding": 8, "domainWidth": 1, "tickWidth": 1, "domainColor": "#444", "tickColor": "#444", "labelColor": "#333", "titleColor": "#333"}}
          }
        },
        {
          "data": {"name": "insetPlus"},
          "mark": {"type": "point", "shape": "M-1,0H1M0,-1V1", "filled": false, "color": "#a8a8e0", "size": 25, "strokeWidth": 1, "opacity": 1},
          "encoding": {
            "x": {"field": "mass", "type": "quantitative", "scale": {"type": "log", "domain": [1, 100000], "range": [457, 644], "nice": false},
              "axis": {"orient": "bottom", "offset": -204, "title": "Body mass (g)", "values": [1,2,3,4,5,6,7,8,9,10,20,30,40,50,60,70,80,90,100,200,300,400,500,600,700,800,900,1000,2000,3000,4000,5000,6000,7000,8000,9000,10000,20000,30000,40000,50000,60000,70000,80000,90000,100000], "labelExpr": "datum.value == 1 ? '1' : datum.value == 10 ? '10' : datum.value == 100 ? '10²' : datum.value == 1000 ? '10³' : datum.value == 10000 ? '10⁴' : datum.value == 100000 ? '10⁵' : ''", "tickSize": {"condition": {"test": "indexof([1,10,100,1000,10000,100000], datum.value) >= 0", "value": 4}, "value": 2}, "labelPadding": 3, "labelFontSize": 10.5, "titleFontSize": 11.5, "titlePadding": 6, "domainWidth": 1, "tickWidth": 1, "domainColor": "#444", "tickColor": "#444", "labelColor": "#333", "titleColor": "#333"}},
            "y": {"field": "labia", "type": "quantitative", "scale": {"domain": [0, 30], "range": [759, 646], "nice": false, "zero": false},
              "axis": {"orient": "left", "offset": -455, "title": "Labia length (mm)", "values": [0, 10, 20, 30], "tickSize": 3, "labelPadding": 3, "labelFontSize": 10.5, "titleFontSize": 11.2, "titlePadding": 8, "domainWidth": 1, "tickWidth": 1, "domainColor": "#444", "tickColor": "#444", "labelColor": "#333", "titleColor": "#333"}}
          }
        },
        {
          "data": {"name": "equation"},
          "mark": {"type": "text", "align": "left", "baseline": "middle", "fontSize": 9.8, "color": "#222"},
          "encoding": {
            "x": {"field": "mass", "type": "quantitative", "scale": {"type": "log", "domain": [1, 100000], "range": [457, 644], "nice": false},
              "axis": {"orient": "bottom", "offset": -204, "title": "Body mass (g)", "values": [1,2,3,4,5,6,7,8,9,10,20,30,40,50,60,70,80,90,100,200,300,400,500,600,700,800,900,1000,2000,3000,4000,5000,6000,7000,8000,9000,10000,20000,30000,40000,50000,60000,70000,80000,90000,100000], "labelExpr": "datum.value == 1 ? '1' : datum.value == 10 ? '10' : datum.value == 100 ? '10²' : datum.value == 1000 ? '10³' : datum.value == 10000 ? '10⁴' : datum.value == 100000 ? '10⁵' : ''", "tickSize": {"condition": {"test": "indexof([1,10,100,1000,10000,100000], datum.value) >= 0", "value": 4}, "value": 2}, "labelPadding": 3, "labelFontSize": 10.5, "titleFontSize": 11.5, "titlePadding": 6, "domainWidth": 1, "tickWidth": 1, "domainColor": "#444", "tickColor": "#444", "labelColor": "#333", "titleColor": "#333"}},
            "y": {"field": "labia", "type": "quantitative", "scale": {"domain": [0, 30], "range": [759, 646], "nice": false, "zero": false},
              "axis": {"orient": "left", "offset": -455, "title": "Labia length (mm)", "values": [0, 10, 20, 30], "tickSize": 3, "labelPadding": 3, "labelFontSize": 10.5, "titleFontSize": 11.2, "titlePadding": 8, "domainWidth": 1, "tickWidth": 1, "domainColor": "#444", "tickColor": "#444", "labelColor": "#333", "titleColor": "#333"}},
            "text": {"field": "t"}
          }
        },
        {
          "data": {"name": "equationSup"},
          "mark": {"type": "text", "align": "left", "baseline": "middle", "fontSize": 7.5, "color": "#222"},
          "encoding": {
            "x": {"field": "mass", "type": "quantitative", "scale": {"type": "log", "domain": [1, 100000], "range": [457, 644], "nice": false},
              "axis": {"orient": "bottom", "offset": -204, "title": "Body mass (g)", "values": [1,2,3,4,5,6,7,8,9,10,20,30,40,50,60,70,80,90,100,200,300,400,500,600,700,800,900,1000,2000,3000,4000,5000,6000,7000,8000,9000,10000,20000,30000,40000,50000,60000,70000,80000,90000,100000], "labelExpr": "datum.value == 1 ? '1' : datum.value == 10 ? '10' : datum.value == 100 ? '10²' : datum.value == 1000 ? '10³' : datum.value == 10000 ? '10⁴' : datum.value == 100000 ? '10⁵' : ''", "tickSize": {"condition": {"test": "indexof([1,10,100,1000,10000,100000], datum.value) >= 0", "value": 4}, "value": 2}, "labelPadding": 3, "labelFontSize": 10.5, "titleFontSize": 11.5, "titlePadding": 6, "domainWidth": 1, "tickWidth": 1, "domainColor": "#444", "tickColor": "#444", "labelColor": "#333", "titleColor": "#333"}},
            "y": {"field": "labia", "type": "quantitative", "scale": {"domain": [0, 30], "range": [759, 646], "nice": false, "zero": false},
              "axis": {"orient": "left", "offset": -455, "title": "Labia length (mm)", "values": [0, 10, 20, 30], "tickSize": 3, "labelPadding": 3, "labelFontSize": 10.5, "titleFontSize": 11.2, "titlePadding": 8, "domainWidth": 1, "tickWidth": 1, "domainColor": "#444", "tickColor": "#444", "labelColor": "#333", "titleColor": "#333"}},
            "text": {"field": "t"}
          }
        }
      ]
    }
  ]
}
